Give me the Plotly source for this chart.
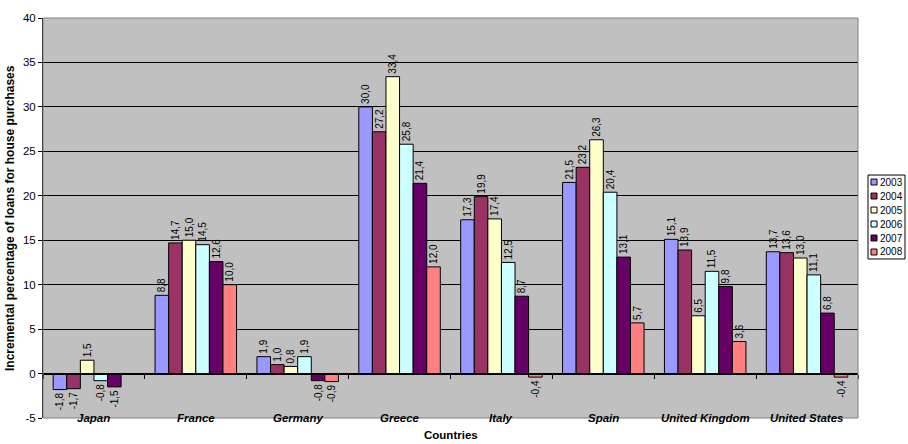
import plotly.graph_objects as go

countries = ["Japan", "France", "Germany", "Greece", "Italy", "Spain", "United Kingdom", "United States"]
years = ["2003", "2004", "2005", "2006", "2007", "2008"]
v2003 = [-1.8, 8.8, 1.9, 30.0, 17.3, 21.5, 15.1, 13.7]
v2004 = [-1.7, 14.7, 1.0, 27.2, 19.9, 23.2, 13.9, 13.6]
v2005 = [1.5, 15.0, 0.8, 33.4, 17.4, 26.3, 6.5, 13.0]
v2006 = [-0.8, 14.5, 1.9, 25.8, 12.5, 20.4, 11.5, 11.1]
v2007 = [-1.5, 12.6, -0.8, 21.4, 8.7, 13.1, 9.8, 6.8]
v2008 = [None, 10.0, -0.9, 12.0, -0.4, 5.7, 3.6, -0.4]
series = [v2003, v2004, v2005, v2006, v2007, v2008]
colors = ["#9999FF", "#993366", "#FFFFCC", "#CCFFFF", "#660066", "#FF8080"]
y_ticks = [-5, 0, 5, 10, 15, 20, 25, 30, 35, 40]

FONT = "Liberation Sans, Arial, sans-serif"
W, H = 908, 444
ML, MR, MT, MB = 43, 50, 13, 26
PW, PH = W - ML - MR, H - MT - MB


def px_x(px):
    return (px - ML) / PW


def px_y(py):
    return (H - MB - py) / PH


def fmt(v):
    return "" if v is None else f"{v:.1f}".replace(".", ",")


fig = go.Figure()
for yr, vals, col in zip(years, series, colors):
    fig.add_trace(go.Bar(
        x=countries, y=vals, name=yr,
        marker=dict(color=col, line=dict(color="#000000", width=1)),
        text=[fmt(v) for v in vals],
        textposition="outside", textangle=-90,
        textfont=dict(family=FONT, size=10, color="#000000"),
        constraintext="none", cliponaxis=False,
        showlegend=False,
    ))

annotations = []
for c in countries:
    annotations.append(dict(
        x=c, y=-5, xref="x", yref="y", text=f"<b><i>{c}</i></b>",
        showarrow=False, yanchor="middle", yshift=0,
        font=dict(family=FONT, size=11.5, color="#000000"),
    ))
annotations.append(dict(
    x=0.5, y=px_y(435), xref="paper", yref="paper", text="<b>Countries</b>",
    showarrow=False, yanchor="middle", xanchor="center",
    font=dict(family=FONT, size=11.5, color="#000000"),
))
annotations.append(dict(
    x=px_x(10), y=0.5, xref="paper", yref="paper",
    text="<b>Incremental percentage of loans for house purchases</b>",
    showarrow=False, textangle=-90, xanchor="center", yanchor="middle",
    font=dict(family=FONT, size=12, color="#000000"),
))

shapes = [dict(type="rect", xref="paper", yref="paper", x0=0, x1=1, y0=0, y1=1,
               line=dict(color="#808080", width=1), fillcolor="rgba(0,0,0,0)", layer="above")]

# manual legend
lx0, lx1, ly0, ly1 = 868, 905, 172, 257
shapes.append(dict(type="rect", xref="paper", yref="paper",
                   x0=px_x(lx0), x1=px_x(lx1), y0=px_y(ly1), y1=px_y(ly0),
                   line=dict(color="#000000", width=1), fillcolor="#FFFFFF"))
row_h = (ly1 - ly0) / len(years)
for i, (yr, col) in enumerate(zip(years, colors)):
    cy = ly0 + row_h * (i + 0.5)
    shapes.append(dict(type="rect", xref="paper", yref="paper",
                       x0=px_x(871), x1=px_x(877), y0=px_y(cy + 3), y1=px_y(cy - 3),
                       line=dict(color="#000000", width=1), fillcolor=col))
    annotations.append(dict(x=px_x(878), y=px_y(cy), xref="paper", yref="paper",
                            text=yr, showarrow=False, xanchor="left", yanchor="middle",
                            font=dict(family=FONT, size=10, color="#000000")))

fig.update_layout(
    width=W, height=H,
    margin=dict(l=ML, r=MR, t=MT, b=MB),
    paper_bgcolor="#FFFFFF", plot_bgcolor="#C0C0C0",
    barmode="group", bargap=0.2, bargroupgap=0,
    font=dict(family=FONT, size=11, color="#000000"),
    xaxis=dict(
        type="category", anchor="free", position=5 / 45,
        showline=True, linecolor="#000000", linewidth=1,
        ticks="outside", tickson="boundaries", ticklen=4, tickcolor="#000000",
        showticklabels=False, showgrid=False, zeroline=False,
    ),
    yaxis=dict(
        range=[-5, 40], tickvals=y_ticks, ticktext=[str(t) for t in y_ticks],
        showgrid=True, gridcolor="#000000", gridwidth=1,
        zeroline=True, zerolinecolor="#000000", zerolinewidth=1,
        showline=True, linecolor="#000000", linewidth=1,
        ticks="outside", ticklen=4, tickcolor="#000000",
        tickfont=dict(family=FONT, size=11.5, color="#000000"),
    ),
    annotations=annotations,
    shapes=shapes,
    showlegend=False,
)

fig.write_html("out.html", config={"displayModeBar": False},
               post_script="document.body.style.margin='0';document.body.style.padding='0';")
